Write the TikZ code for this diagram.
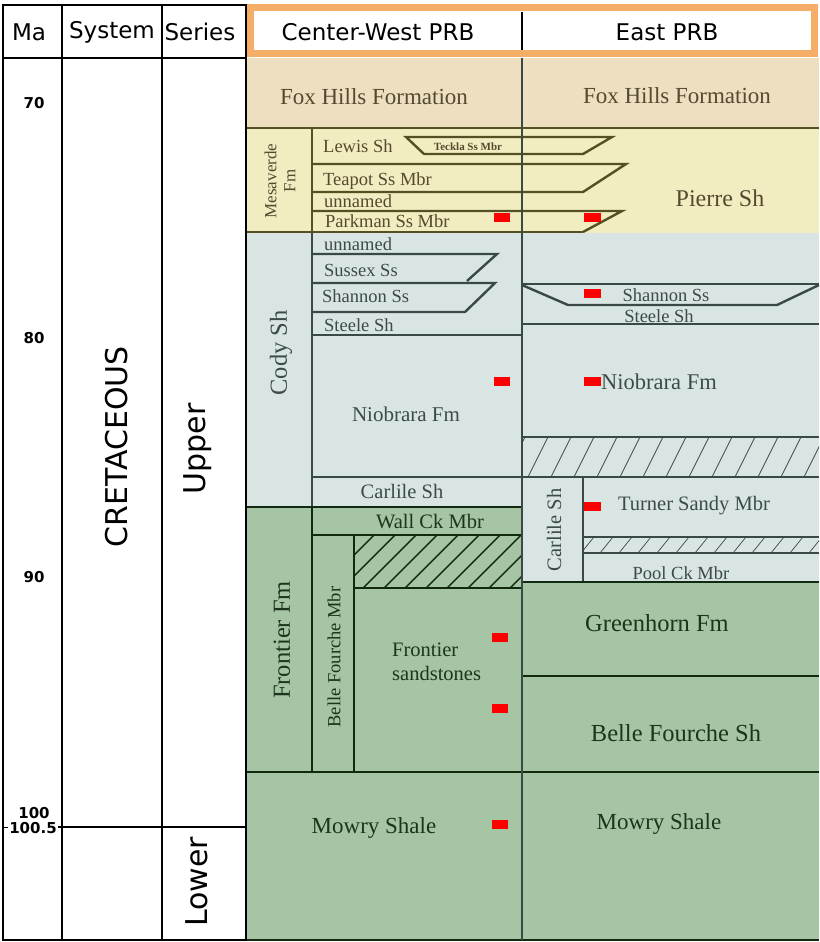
\documentclass[tikz,border=0pt]{standalone}
\usepackage{fontspec}
\setmainfont{Liberation Serif}
\newfontfamily\dv{DejaVu Sans}
\definecolor{foxc}{HTML}{EEDFC0}
\definecolor{mesac}{HTML}{F1EDC0}
\definecolor{codyc}{HTML}{D8E5E3}
\definecolor{greenc}{HTML}{A6C5A5}
\definecolor{olivl}{HTML}{545024}
\definecolor{slatel}{HTML}{3A4846}
\definecolor{grnl}{HTML}{10290F}
\definecolor{oltxt}{HTML}{544A30}
\definecolor{cdtxt}{HTML}{3C4A48}
\definecolor{grtxt}{HTML}{1C351C}
\definecolor{orangec}{HTML}{F5AE68}
\definecolor{markc}{HTML}{FF0000}
\newcommand\myfs[2]{\fontsize{#1}{#2}\selectfont}
\begin{document}
\begin{tikzpicture}[x=1pt,y=-1pt,
  frameline/.style={line width=2pt,draw=black},
  olive/.style={draw=olivl,line width=2.4pt},
  slate/.style={draw=slatel,line width=2.4pt},
  grn/.style={draw=grnl,line width=2.4pt},
  hatchthin/.style={draw=slatel,line width=0.7pt},
  hatchthick/.style={draw=grnl,line width=1.4pt},
  marker/.style={fill=markc},
  ftxt/.style={text=oltxt,inner sep=0pt},
  ctxt/.style={text=cdtxt,inner sep=0pt},
  gtxt/.style={text=grtxt,inner sep=0pt},
  hdr/.style={font=\dv\myfs{23}{27},inner sep=0pt},
  big/.style={font=\dv\myfs{30}{34},inner sep=0pt,rotate=90},
  ma/.style={font=\dv\bfseries\myfs{15}{17},inner sep=0pt}]
\useasboundingbox (0,0) rectangle (819,942);
\fill[white] (0,0) rectangle (819,942);
% fills
\fill[foxc] (246,58) rectangle (819,128);
\fill[mesac] (246,128) rectangle (819,233);
\fill[codyc] (246,233) rectangle (819,507);
\fill[codyc] (522,507) rectangle (819,582);
\fill[greenc] (246,507) rectangle (522,940);
\fill[greenc] (522,582) rectangle (819,940);
% hatching
\begin{scope}
\clip (522,437) rectangle (819,477);
\foreach \x in {505,528,...,850} \draw[hatchthin] (\x,477) -- (\x+20,437);
\end{scope}
\begin{scope}
\clip (583,537) rectangle (819,553);
\foreach \x in {581,600,...,840} \draw[hatchthin] (\x,553) -- (\x+13,537);
\end{scope}
\begin{scope}
\clip (354,535) rectangle (522,588);
\foreach \x in {300,321,...,540} \draw[hatchthick] (\x,588) -- (\x+53,535);
\end{scope}
% Mesaverde lines
\draw[olive] (246,128) -- (819,128);
\draw[olive] (312,128) -- (312,233);
\draw[olive] (246,232) -- (583,232);
\draw[olive] (312,164) -- (626,164) -- (583,192) -- (312,192);
\draw[olive] (406,137) -- (612,137) -- (583,154) -- (424,154) -- cycle;
\draw[olive] (312,211) -- (622,211) -- (583,232);
% Cody lines
\draw[slate] (312,233) -- (312,507);
\draw[slate] (312,254) -- (497,254) -- (467,281);
\draw[slate] (312,283) -- (495,283) -- (465,312) -- (312,312);
\draw[slate] (312,335) -- (522,335);
\draw[slate] (312,477) -- (522,477);
\draw[slate] (522,284) -- (819,284);
\draw[slate] (522,285) -- (568,305) -- (777,305) -- (819,285);
\draw[slate] (522,324) -- (819,324);
\draw[slate] (522,437) -- (819,437);
\draw[slate] (522,477) -- (819,477);
\draw[slate] (583,477) -- (583,582);
\draw[slate] (583,537) -- (819,537);
\draw[slate] (583,553) -- (819,553);
% green lines
\draw[grn] (246,507) -- (522,507);
\draw[grn] (522,582) -- (819,582);
\draw[grn] (312,507) -- (312,772);
\draw[grn] (312,535) -- (522,535);
\draw[grn] (354,535) -- (354,772);
\draw[grn] (354,588) -- (522,588);
\draw[grn] (246,772) -- (819,772);
\draw[grn] (522,676) -- (819,676);
\draw[grn] (246,940) -- (819,940);
% main divider
\draw[slate] (522,58) -- (522,940);
% left columns
\draw[frameline] (3,5) rectangle (246,940);
\draw[frameline] (62,5) -- (62,940);
\draw[frameline] (162,5) -- (162,940);
\draw[frameline] (3,58) -- (246,58);
\draw[line width=1.4pt] (58,827) -- (246,827);
\draw[line width=1pt] (3,827) -- (8,827);
% header
\draw[draw=orangec,fill=white,line width=7pt] (250,8) rectangle (814,54);
\draw[line width=2pt] (522,12) -- (522,50);
\node[hdr] (hma) at (29,32) {Ma};
\node[hdr] (hsys) at (112,32) {System};
\node[hdr] (hser) at (200,32) {Series};
\node[hdr] (hcw) at (378,32) {Center-West PRB};
\node[hdr] (he) at (667,32) {East PRB};
% Ma labels
\node[ma] (m70) at (34,103) {70};
\node[ma] (m80) at (34,338) {80};
\node[ma] (m90) at (34,577) {90};
\node[ma] (m100) at (34,813) {100};
\node[ma] (m1005) at (33,828) {100.5};
\node[big] (cret) at (117,447) {CRETACEOUS};
\node[big] (upper) at (198,449) {Upper};
\node[big] (lower) at (197,882) {Lower};
% red markers
\foreach \y in {213,377} \fill[markc] (494,\y) rectangle ++(16,9);
\foreach \y in {633,704,820} \fill[markc] (492,\y) rectangle ++(16,9);
\foreach \y in {213,289,377,502} \fill[markc] (584,\y) rectangle ++(17,9);
% Fox Hills / Mesaverde text
\node[ftxt,font=\myfs{23}{26}] (fhcw) at (374,97) {Fox Hills Formation};
\node[ftxt,font=\myfs{23}{26}] (fhe) at (677,96) {Fox Hills Formation};
\node[ftxt,font=\myfs{17}{19},rotate=90,align=center] (mesa) at (280,181) {Mesaverde\\Fm};
\node[ftxt,font=\myfs{18.5}{21},anchor=west] (lewis) at (323,146) {Lewis Sh};
\node[ftxt,font=\bfseries\myfs{11}{13}] (teckla) at (468,147) {Teckla Ss Mbr};
\node[ftxt,font=\myfs{18.5}{21},anchor=west] (teapot) at (323,181) {Teapot Ss Mbr};
\node[ftxt,font=\myfs{18.5}{21},anchor=west] (unn1) at (324,201) {unnamed};
\node[ftxt,font=\myfs{18.5}{21},anchor=west] (parkman) at (325,221) {Parkman Ss Mbr};
\node[ftxt,font=\myfs{24}{27}] (pierre) at (720,198) {Pierre Sh};
% Cody text
\node[ctxt,font=\myfs{24.5}{27},rotate=90] (cody) at (281,353) {Cody Sh};
\node[ctxt,font=\myfs{18.5}{21},anchor=west] (unn2) at (324,244) {unnamed};
\node[ctxt,font=\myfs{18.5}{21},anchor=west] (sussex) at (324,270) {Sussex Ss};
\node[ctxt,font=\myfs{18.5}{21},anchor=west] (shcw) at (322,296) {Shannon Ss};
\node[ctxt,font=\myfs{18.5}{21},anchor=west] (stcw) at (324,325) {Steele Sh};
\node[ctxt,font=\myfs{21}{24}] (niocw) at (406,414) {Niobrara Fm};
\node[ctxt,font=\myfs{20.5}{23}] (carcw) at (402,491) {Carlile Sh};
\node[ctxt,font=\myfs{18.5}{21}] (she) at (666,295) {Shannon Ss};
\node[ctxt,font=\myfs{18.5}{21}] (ste) at (659,316) {Steele Sh};
\node[ctxt,font=\myfs{22.5}{25},anchor=west] (nioe) at (601,382) {Niobrara Fm};
\node[ctxt,font=\myfs{20.5}{23},rotate=90] (care) at (554,530) {Carlile Sh};
\node[ctxt,font=\myfs{20.5}{23}] (turner) at (694,506) {Turner Sandy Mbr};
\node[ctxt,font=\myfs{18.5}{21}] (pool) at (681,573) {Pool Ck Mbr};
% green text
\node[gtxt,font=\myfs{20.5}{23}] (wall) at (430,522) {Wall Ck Mbr};
\node[gtxt,font=\myfs{24.5}{27},rotate=90] (frfm) at (282,640) {Frontier Fm};
\node[gtxt,font=\myfs{18.5}{21},rotate=90] (bfm) at (334,657) {Belle Fourche Mbr};
\node[gtxt,font=\myfs{20.5}{23.5},align=left,anchor=west] (frss) at (392,662) {Frontier\\sandstones};
\node[gtxt,font=\myfs{23}{26}] (mowcw) at (374,828) {Mowry Shale};
\node[gtxt,font=\myfs{24.5}{27}] (green) at (657,623) {Greenhorn Fm};
\node[gtxt,font=\myfs{24.5}{27}] (bfs) at (676,733) {Belle Fourche Sh};
\node[gtxt,font=\myfs{23}{26}] (mowe) at (659,824) {Mowry Shale};
\end{tikzpicture}
\end{document}
